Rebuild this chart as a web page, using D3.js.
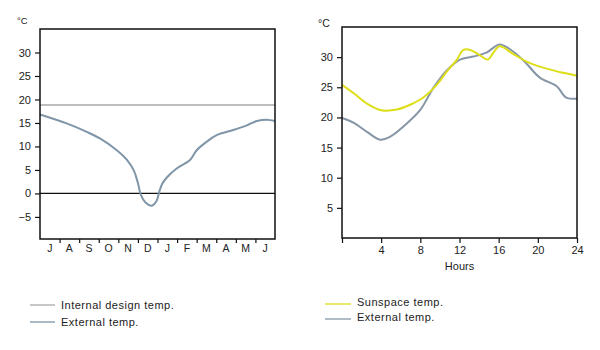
<!DOCTYPE html>
<html>
<head>
<meta charset="utf-8">
<script src="https://cdn.jsdelivr.net/npm/d3@7"></script>
<style>
  body { margin: 0; background: #fff; }
  text { font-family: "Liberation Sans", Arial, sans-serif; fill: #222; }
</style>
</head>
<body>
<script>
// ---- data ----
// left chart: year, months July..June
var months = ["J", "A", "S", "O", "N", "D", "J", "F", "M", "A", "M", "J"];
var yearTicks = [-5, 0, 5, 10, 15, 20, 25, 30];
var internalDesignTemp = 18.8;
// month position (0 = start of July, 12 = end of June) and external temp
var yearPos  = [0, 1.36, 2.39, 3.06, 3.92, 4.43, 4.8, 5.0, 5.15, 5.4, 5.7, 5.95, 6.1, 6.25, 6.5, 6.98, 7.66, 8.0, 8.51, 9.02, 9.87, 10.56, 11.07, 11.58, 12];
var yearExt  = [16.8, 14.9, 13.1, 11.7, 9.2, 7.2, 4.8, 2.2, -0.3, -2.0, -2.6, -1.6, 0.5, 2.1, 3.5, 5.3, 7.1, 9.2, 11.0, 12.4, 13.5, 14.5, 15.4, 15.7, 15.4];

// right chart: 24 hours
var hourTicks = [0, 4, 8, 12, 16, 20, 24];
var dayTicks = [5, 10, 15, 20, 25, 30];
var sunHours = [0, 1.2, 2.55, 4.0, 5.6, 6.96, 8.3, 9.67, 10.7, 11.7, 12.4, 13.1, 14.1, 14.9, 15.4, 16.1, 17.5, 19.2, 20.9, 22.6, 24];
var sunTemp  = [25.4, 24.0, 22.3, 21.2, 21.3, 22.1, 23.3, 25.4, 27.6, 29.5, 31.2, 31.2, 30.3, 29.6, 30.6, 31.8, 30.5, 29.0, 28.1, 27.4, 26.9];
var extHours = [0, 1.2, 2.55, 3.9, 4.92, 6.27, 7.97, 9.33, 10.7, 12.05, 13.4, 14.8, 16.1, 17.5, 18.8, 20.2, 21.9, 22.9, 24];
var extTemp  = [19.9, 19.1, 17.6, 16.3, 16.8, 18.5, 21.2, 24.9, 27.8, 29.6, 30.1, 30.8, 32.1, 30.9, 29.0, 26.6, 25.2, 23.3, 23.1];

var legendLeft  = ["Internal design temp.", "External temp."];
var legendRight = ["Sunspace temp.", "External temp."];

var colGrey = "#a9a9a9", colBlue = "#7f95a8", colBlue2 = "#8696a6", colYellow = "#dede18";

var svg = d3.select("body").append("svg")
    .attr("width", 600)
    .attr("height", 350);

// ---- left chart ----
var left = {x0: 40, x1: 275, y0: 29, y1: 239};
var xL = d3.scaleLinear().domain([0, 12]).range([left.x0, left.x1]);
var yL = d3.scaleLinear().domain([-9.7, 35]).range([left.y1, left.y0]);

var gL = svg.append("g");

// zero line
gL.append("line")
    .attr("x1", left.x0).attr("x2", left.x1)
    .attr("y1", yL(0)).attr("y2", yL(0))
    .style("stroke", "#111").style("stroke-width", 1.3);

// internal design temp
gL.append("line")
    .attr("x1", left.x0).attr("x2", left.x1)
    .attr("y1", yL(internalDesignTemp)).attr("y2", yL(internalDesignTemp))
    .style("stroke", colGrey).style("stroke-width", 1.5);

var lineL = d3.line()
    .x(function(d, i) { return xL(yearPos[i]); })
    .y(function(d) { return yL(d); })
    .curve(d3.curveCatmullRom.alpha(0.5));

gL.append("path")
    .datum(yearExt)
    .style("fill", "none")
    .style("stroke", colBlue)
    .style("stroke-width", 2)
    .attr("d", lineL);

// y axis
gL.append("g")
    .attr("transform", "translate(" + left.x0 + ",0)")
    .call(d3.axisLeft(yL).tickValues(yearTicks).tickSize(5).tickPadding(4))
    .call(function(g) { g.select(".domain").remove(); });

// month tick marks + labels
gL.append("g")
    .attr("transform", "translate(0," + left.y1 + ")")
    .call(d3.axisBottom(xL).tickValues(d3.range(1, 12)).tickSize(4).tickFormat(""))
    .call(function(g) { g.select(".domain").remove(); });

gL.selectAll(".month")
    .data(months)
    .enter().append("text")
    .attr("class", "month")
    .attr("x", function(d, i) { return xL(i + 0.5); })
    .attr("y", 252)
    .attr("text-anchor", "middle")
    .style("font-size", "10.5px")
    .text(function(d) { return d; });

gL.append("rect")
    .attr("x", left.x0).attr("y", left.y0)
    .attr("width", left.x1 - left.x0).attr("height", left.y1 - left.y0)
    .style("fill", "none").style("stroke", "#111").style("stroke-width", 1.5);

gL.append("text").attr("x", 17).attr("y", 24).style("font-size", "9.5px").text("°C");

// ---- right chart ----
var right = {x0: 342, x1: 577, y0: 27, y1: 238};
var xR = d3.scaleLinear().domain([0, 24]).range([right.x0, right.x1]);
var yR = d3.scaleLinear().domain([0, 35]).range([right.y1, right.y0]);

var gR = svg.append("g");

var sunLine = d3.line()
    .x(function(d, i) { return xR(sunHours[i]); })
    .y(function(d) { return yR(d); })
    .curve(d3.curveCatmullRom.alpha(0.5));

var extLine = d3.line()
    .x(function(d, i) { return xR(extHours[i]); })
    .y(function(d) { return yR(d); })
    .curve(d3.curveCatmullRom.alpha(0.5));

gR.append("path")
    .datum(extTemp)
    .style("fill", "none").style("stroke", colBlue2).style("stroke-width", 2)
    .attr("d", extLine);

gR.append("path")
    .datum(sunTemp)
    .style("fill", "none").style("stroke", colYellow).style("stroke-width", 2)
    .attr("d", sunLine);

gR.append("g")
    .attr("transform", "translate(" + right.x0 + ",0)")
    .call(d3.axisLeft(yR).tickValues(dayTicks).tickSize(5).tickPadding(4))
    .call(function(g) { g.select(".domain").remove(); });

gR.append("g")
    .attr("transform", "translate(0," + right.y1 + ")")
    .call(d3.axisBottom(xR).tickValues(hourTicks).tickSize(5).tickPadding(3)
        .tickFormat(function(d) { return d === 0 ? "" : d; }))
    .call(function(g) { g.select(".domain").remove(); });

gR.append("rect")
    .attr("x", right.x0).attr("y", right.y0)
    .attr("width", right.x1 - right.x0).attr("height", right.y1 - right.y0)
    .style("fill", "none").style("stroke", "#111").style("stroke-width", 1.5);

gR.append("text").attr("x", 318).attr("y", 27).style("font-size", "10.5px").text("°C");
gR.append("text").attr("x", (right.x0 + right.x1) / 2).attr("y", 270)
    .attr("text-anchor", "middle").style("font-size", "11px").text("Hours");

svg.selectAll(".tick text").style("font-size", "11px").style("fill", "#222");
svg.selectAll(".tick line").style("stroke", "#111").style("stroke-width", 1.2);

// ---- legends ----
var legL = svg.append("g");
legL.selectAll("line")
    .data(legendLeft)
    .enter().append("line")
    .attr("x1", 30).attr("x2", 55)
    .attr("y1", function(d, i) { return 305 + i * 17; })
    .attr("y2", function(d, i) { return 305 + i * 17; })
    .style("stroke", function(d, i) { return i === 0 ? colGrey : colBlue; })
    .style("stroke-width", 1.3);
legL.selectAll("text")
    .data(legendLeft)
    .enter().append("text")
    .attr("x", 61)
    .attr("y", function(d, i) { return 305 + i * 17; })
    .attr("dy", "0.35em")
    .style("font-size", "11px")
    .style("letter-spacing", "0.5px")
    .text(function(d) { return d; });

var legR = svg.append("g");
legR.selectAll("line")
    .data(legendRight)
    .enter().append("line")
    .attr("x1", 325).attr("x2", 351)
    .attr("y1", function(d, i) { return 304 + i * 15; })
    .attr("y2", function(d, i) { return 304 + i * 15; })
    .style("stroke", function(d, i) { return i === 0 ? colYellow : colBlue2; })
    .style("stroke-width", 1.3);
legR.selectAll("text")
    .data(legendRight)
    .enter().append("text")
    .attr("x", 357)
    .attr("y", function(d, i) { return 302 + i * 15; })
    .attr("dy", "0.35em")
    .style("font-size", "11px")
    .style("letter-spacing", "0.5px")
    .text(function(d) { return d; });
</script>
</body>
</html>
